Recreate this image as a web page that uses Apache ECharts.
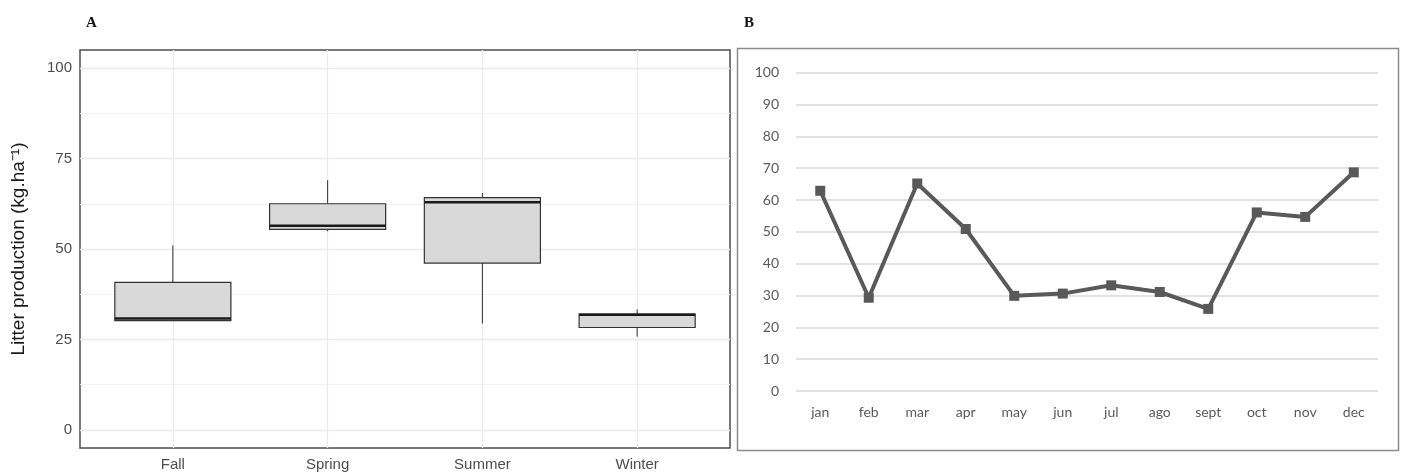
<!DOCTYPE html>
<html>
<head>
<meta charset="utf-8">
<script src="https://cdn.jsdelivr.net/npm/echarts@6/dist/echarts.min.js"></script>
<style>html,body{margin:0;padding:0;background:#fff;}#c{width:1401px;height:476px;}</style>
</head>
<body>
<div id="c"></div>
<script>
// Panel A: seasonal boxplots
const seasons = ['Fall', 'Spring', 'Summer', 'Winter'];
const boxMin    = [30.2, 54.9, 29.4, 25.8];
const boxQ1     = [30.2, 55.4, 46.1, 28.3];
const boxMedian = [30.8, 56.4, 62.9, 31.8];
const boxQ3     = [40.8, 62.5, 64.2, 32.0];
const boxMax    = [51.0, 69.0, 65.5, 33.3];
const aTicks = [0, 25, 50, 75, 100];
const aMinor = [12.5, 37.5, 62.5, 87.5];

// Panel B: monthly litter production
const months = ['jan','feb','mar','apr','may','jun','jul','ago','sept','oct','nov','dec'];
const monthly = [62.9, 29.3, 65.2, 50.9, 29.9, 30.6, 33.2, 31.1, 25.8, 56.1, 54.7, 68.7];

const seasonIdx = seasons.map((s, i) => i);
const boxData = seasons.map((s, i) => [i, boxMin[i], boxQ1[i], boxMedian[i], boxQ3[i], boxMax[i]]);

const chart = echarts.init(document.getElementById('c'), null, {renderer: 'canvas'});

const hLineA = (v, minor) => ({yAxis: v, lineStyle: {color: minor ? '#f3f3f3' : '#ebebeb', width: minor ? 1 : 1.3, type: 'solid'}});
const vLineA = (v) => ({xAxis: v, lineStyle: {color: '#ebebeb', width: 1.3, type: 'solid'}});
const narrow = '"Liberation Sans Narrow", "Liberation Sans", Arial, sans-serif';

chart.setOption({
  animation: false,
  backgroundColor: '#fff',
  graphic: [
    {type: 'text', left: 86, top: 16, style: {text: 'A', font: 'bold 15px "Liberation Serif", "DejaVu Serif", serif', fill: '#111'}},
    {type: 'text', left: 744, top: 16, style: {text: 'B', font: 'bold 15px "Liberation Serif", "DejaVu Serif", serif', fill: '#111'}},
    {type: 'rect', shape: {x: 737.5, y: 48.5, width: 661, height: 402}, style: {fill: 'none', stroke: '#8c8c8c', lineWidth: 1.5}, z: 10}
  ],
  grid: [
    {left: 80, top: 50, width: 650, height: 398, show: true, borderColor: '#4d4d4d', borderWidth: 1.5, backgroundColor: 'transparent'},
    {left: 796, top: 72.7, width: 582, height: 318.3, show: false}
  ],
  xAxis: [
    {
      type: 'value', gridIndex: 0, min: -0.6, max: 3.6,
      axisLine: {show: false},
      axisTick: {show: true, length: 3, customValues: seasonIdx, lineStyle: {color: '#333'}},
      axisLabel: {color: '#4d4d4d', fontSize: 15, fontFamily: narrow, margin: 9, customValues: seasonIdx,
                  formatter: v => seasons[Math.round(v)]},
      splitLine: {show: false}
    },
    {
      type: 'category', gridIndex: 1, data: months, boundaryGap: true,
      axisLine: {show: false}, axisTick: {show: false},
      axisLabel: {color: '#595959', fontSize: 14, fontFamily: 'Lato, "Open Sans", sans-serif', margin: 14},
      splitLine: {show: false}
    }
  ],
  yAxis: [
    {
      type: 'value', gridIndex: 0, min: -5, max: 105,
      name: 'Litter production (kg.ha\u207B\u00B9)', nameLocation: 'middle', nameGap: 52, nameRotate: 90,
      nameTextStyle: {color: '#1a1a1a', fontSize: 19, fontFamily: '"Liberation Sans", Arial, sans-serif'},
      axisLine: {show: false},
      axisTick: {show: true, length: 3, customValues: aTicks, lineStyle: {color: '#333'}},
      axisLabel: {color: '#4d4d4d', fontSize: 15, fontFamily: narrow, margin: 8, customValues: aTicks},
      splitLine: {show: false}
    },
    {
      type: 'value', gridIndex: 1, min: 0, max: 100, interval: 10,
      axisLine: {show: false}, axisTick: {show: false},
      axisLabel: {color: '#595959', fontSize: 14, fontFamily: 'Lato, "Open Sans", sans-serif', margin: 17},
      splitLine: {show: true, lineStyle: {color: '#d9d9d9', width: 1.5}}
    }
  ],
  series: [
    {
      type: 'custom', xAxisIndex: 0, yAxisIndex: 0, data: boxData, z: 5,
      encode: {x: 0, y: [1, 2, 3, 4, 5]},
      renderItem: function (params, api) {
        const idx = api.value(0);
        const pMin = api.coord([idx, api.value(1)]);
        const pQ1 = api.coord([idx, api.value(2)]);
        const pMed = api.coord([idx, api.value(3)]);
        const pQ3 = api.coord([idx, api.value(4)]);
        const pMax = api.coord([idx, api.value(5)]);
        const w = api.size([0.75, 0])[0];
        const x0 = pQ1[0] - w / 2;
        return {
          type: 'group',
          children: [
            {type: 'line', shape: {x1: pMax[0], y1: pMax[1], x2: pQ3[0], y2: pQ3[1]}, style: {stroke: '#333', lineWidth: 1}},
            {type: 'line', shape: {x1: pMin[0], y1: pMin[1], x2: pQ1[0], y2: pQ1[1]}, style: {stroke: '#333', lineWidth: 1}},
            {type: 'rect', shape: {x: x0, y: pQ3[1], width: w, height: pQ1[1] - pQ3[1]}, style: {fill: '#d9d9d9', stroke: '#333', lineWidth: 1.2}},
            {type: 'line', shape: {x1: x0, y1: pMed[1], x2: x0 + w, y2: pMed[1]}, style: {stroke: '#1a1a1a', lineWidth: 2.5}}
          ]
        };
      },
      markLine: {
        silent: true, symbol: 'none', label: {show: false}, z: 1,
        data: [
          ...aTicks.map(v => hLineA(v, false)),
          ...aMinor.map(v => hLineA(v, true)),
          ...seasonIdx.map(v => vLineA(v))
        ]
      }
    },
    {
      type: 'line', xAxisIndex: 1, yAxisIndex: 1, data: monthly,
      lineStyle: {color: '#595959', width: 4},
      itemStyle: {color: '#595959'},
      symbol: 'rect', symbolSize: 10, showSymbol: true
    }
  ]
});
</script>
</body>
</html>
